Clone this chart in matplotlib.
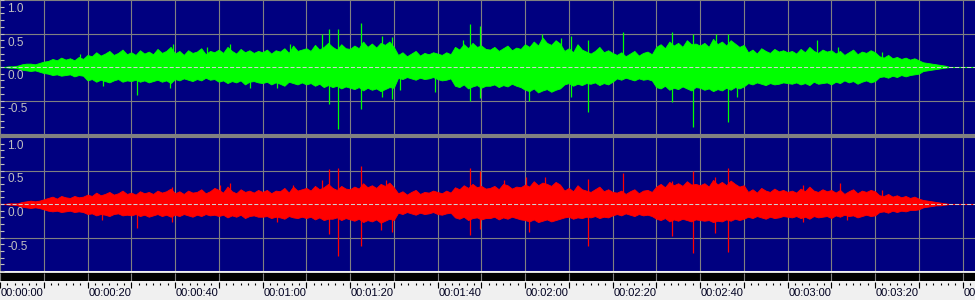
import numpy as np
import matplotlib
matplotlib.use("Agg")
import matplotlib.pyplot as plt
from matplotlib.patches import Rectangle
import matplotlib.transforms as mtransforms

plt.rcParams['font.family'] = ['Liberation Sans', 'DejaVu Sans']

# peak level per second of the track, in hundredths of full scale (t = 0 .. 222 s)
green_top = [
    0, 0, 1, 1, 2, 4, 5, 5, 4, 6,
    8, 9, 12, 10, 14, 11, 13, 10, 15, 12,
    18, 16, 22, 17, 20, 24, 18, 21, 26, 19,
    22, 18, 25, 20, 23, 19, 27, 21, 24, 30,
    20, 24, 18, 25, 21, 23, 28, 19, 24, 22,
    26, 21, 30, 24, 20, 27, 22, 25, 21, 24,
    22, 26, 20, 25, 23, 28, 21, 32, 24, 26,
    28, 24, 33, 26, 30, 36, 30, 26, 34, 28,
    27, 32, 28, 38, 30, 35, 29, 36, 33, 38,
    30, 18, 22, 16, 20, 24, 17, 21, 19, 22,
    20, 18, 22, 19, 30, 26, 34, 28, 36, 30,
    32, 27, 26, 30, 24, 28, 32, 25, 29, 27,
    34, 30, 38, 32, 44, 36, 33, 40, 35, 24,
    28, 22, 34, 26, 23, 20, 24, 30, 22, 25,
    21, 18, 22, 16, 20, 24, 17, 21, 23, 19,
    30, 34, 28, 38, 32, 36, 30, 40, 34, 35,
    32, 36, 30, 42, 34, 38, 32, 40, 35, 30,
    33, 22, 26, 20, 28, 24, 21, 27, 23, 25,
    22, 24, 20, 27, 22, 30, 24, 21, 26, 23,
    25, 20, 24, 18, 22, 26, 19, 23, 21, 25,
    22, 16, 14, 18, 13, 15, 12, 14, 11, 13,
    10, 7, 6, 5, 4, 3, 2, 0, 0, 0,
    0, 0, 0,
]
green_bottom = [
    0, 0, 1, 1, 2, 4, 5, 6, 5, 7,
    9, 10, 12, 11, 13, 12, 11, 14, 12, 13,
    20, 18, 22, 19, 21, 23, 20, 18, 22, 20,
    21, 19, 22, 20, 23, 21, 19, 22, 20, 24,
    18, 20, 17, 19, 21, 18, 20, 16, 19, 18,
    22, 20, 24, 21, 23, 20, 26, 22, 21, 23,
    24, 22, 26, 23, 25, 28, 22, 24, 26, 23,
    26, 24, 28, 25, 30, 27, 30, 28, 32, 29,
    31, 33, 30, 35, 31, 34, 32, 36, 33, 30,
    31, 16, 18, 15, 17, 19, 16, 18, 17, 15,
    18, 20, 19, 17, 28, 30, 26, 32, 29, 27,
    31, 28, 28, 26, 30, 27, 29, 25, 28, 30,
    34, 36, 32, 38, 35, 33, 37, 34, 32, 26,
    24, 28, 25, 27, 24, 25, 23, 27, 24, 26,
    22, 17, 19, 16, 18, 20, 17, 19, 18, 20,
    30, 32, 28, 34, 31, 33, 29, 32, 35, 30,
    31, 34, 32, 36, 33, 35, 31, 34, 30, 32,
    29, 24, 26, 23, 25, 27, 24, 26, 25, 23,
    24, 25, 23, 26, 24, 27, 22, 25, 24, 23,
    26, 22, 24, 20, 23, 21, 25, 22, 20, 23,
    21, 15, 14, 16, 13, 15, 12, 14, 12, 11,
    10, 6, 5, 4, 3, 2, 1, 0, 0, 0,
    0, 0, 0,
]
red_top = [
    0, 0, 1, 1, 1, 3, 4, 5, 4, 5,
    7, 9, 11, 8, 12, 10, 9, 12, 10, 11,
    14, 12, 17, 13, 15, 18, 14, 16, 20, 15,
    17, 14, 19, 16, 18, 15, 20, 17, 19, 23,
    16, 19, 15, 20, 17, 18, 22, 16, 19, 24,
    21, 17, 26, 19, 16, 22, 18, 20, 17, 21,
    18, 21, 16, 20, 19, 24, 17, 26, 20, 22,
    24, 20, 27, 22, 25, 30, 24, 21, 27, 23,
    22, 26, 23, 31, 25, 28, 24, 30, 27, 32,
    25, 16, 19, 14, 18, 21, 15, 18, 17, 20,
    18, 16, 20, 17, 25, 22, 28, 24, 30, 25,
    27, 23, 24, 27, 22, 30, 28, 23, 26, 25,
    29, 26, 34, 28, 32, 30, 27, 33, 29, 20,
    24, 19, 28, 22, 20, 18, 22, 26, 19, 22,
    18, 17, 20, 15, 19, 22, 16, 20, 21, 18,
    26, 30, 25, 33, 28, 31, 27, 34, 29, 30,
    28, 31, 26, 36, 29, 33, 28, 35, 30, 26,
    28, 18, 22, 17, 24, 20, 18, 23, 19, 21,
    18, 20, 17, 23, 19, 26, 20, 18, 22, 19,
    21, 17, 21, 15, 19, 22, 16, 20, 18, 21,
    19, 13, 12, 15, 11, 13, 10, 12, 9, 11,
    8, 6, 5, 4, 3, 2, 1, 0, 0, 0,
    0, 0, 0,
]
red_bottom = [
    0, 0, 1, 1, 2, 4, 5, 6, 5, 6,
    8, 10, 11, 10, 12, 11, 10, 12, 11, 12,
    15, 14, 17, 15, 16, 18, 15, 14, 17, 16,
    17, 15, 18, 16, 19, 17, 15, 18, 16, 19,
    16, 18, 15, 17, 19, 16, 18, 15, 17, 16,
    18, 16, 20, 17, 19, 16, 21, 18, 17, 19,
    19, 18, 21, 19, 20, 22, 18, 20, 21, 19,
    21, 19, 23, 20, 24, 22, 22, 20, 24, 21,
    23, 25, 22, 27, 24, 26, 23, 28, 25, 22,
    24, 13, 15, 12, 14, 16, 13, 15, 14, 12,
    15, 16, 14, 13, 20, 22, 19, 24, 21, 20,
    23, 21, 21, 19, 23, 20, 22, 19, 21, 23,
    24, 26, 23, 27, 25, 23, 26, 24, 22, 20,
    19, 22, 20, 21, 19, 20, 18, 21, 19, 20,
    17, 15, 17, 14, 16, 18, 15, 17, 16, 18,
    22, 24, 21, 26, 23, 25, 22, 24, 26, 23,
    24, 25, 24, 27, 25, 26, 23, 25, 22, 24,
    22, 19, 21, 18, 20, 22, 19, 21, 20, 18,
    19, 20, 18, 21, 19, 22, 18, 20, 19, 18,
    21, 17, 19, 16, 18, 17, 20, 18, 16, 18,
    17, 12, 11, 13, 10, 12, 10, 11, 9, 9,
    8, 5, 4, 3, 2, 2, 1, 0, 0, 0,
    0, 0, 0,
]

# isolated transients: time (s), positive peak, negative peak
green_spike_t = [18.3, 23.6, 31.4, 38.9, 39.5, 47.2, 52.6, 57.1, 63.2, 66.3, 73.5, 75.2,
                 77.3, 82.4, 87.2, 89.5, 91.4, 99.4, 105.9, 107.4, 109.7, 121.0, 123.8,
                 128.3, 130.6, 134.4, 142.4, 153.7, 158.5, 163.7, 166.5, 168.4, 186.7,
                 191.6, 201.5]
green_spike_hi = [0.20, 0, 0, 0, 0.34, 0.30, 0.35, 0, 0, 0.35, 0.50, 0.57,
                  0.57, 0.65, 0.47, 0.45, 0, 0, 0.40, 0.64, 0.61, 0, 0.50,
                  0.43, 0.47, 0.40, 0.52, 0.52, 0.50, 0.50, 0.50, 0, 0.40,
                  0.30, 0.22]
green_spike_lo = [0, -0.28, -0.42, -0.31, 0, 0, 0, -0.32, -0.32, 0, 0, -0.55,
                  -0.92, -0.62, -0.45, -0.48, -0.35, -0.37, 0, -0.50, -0.47, -0.50, 0,
                  0, -0.45, -0.67, 0, -0.52, -0.89, 0, -0.82, -0.45, 0,
                  0, 0]

red_spike_t = [23.2, 31.4, 39.2, 50.3, 52.6, 63.2, 67.0, 73.5, 75.2, 77.3, 82.4, 87.0,
               88.3, 89.5, 107.5, 109.8, 115.2, 120.3, 121.0, 124.5, 134.4, 142.4,
               153.5, 158.5, 163.4, 166.5, 183.6, 192.0, 193.5, 201.5]
red_spike_hi = [0, 0, 0.26, 0.28, 0.31, 0, 0.29, 0.36, 0.52, 0.53, 0.56, 0,
                0.36, 0, 0.53, 0.50, 0.36, 0.41, 0, 0.40, 0.38, 0.47,
                0.34, 0.50, 0.41, 0.53, 0.29, 0.31, 0, 0.21]
red_spike_lo = [-0.24, -0.36, -0.27, 0, 0, -0.27, 0, 0, -0.45, -0.78, -0.63, -0.39,
                0, -0.42, -0.47, -0.38, 0, 0, -0.42, 0, -0.63, 0,
                -0.48, -0.73, -0.44, -0.71, -0.27, 0, -0.24, 0]

level_labels = ["1.0", "0.5", "0.0", "-0.5"]
level_values = [1.0, 0.5, 0.0, -0.5]

W, H = 975, 300
PX_PER_S = 4.375
t_end = W / PX_PER_S

fig = plt.figure(figsize=(W / 100, H / 100), dpi=100)
fig.patch.set_facecolor('#f0f0f0')


def channel(ax, top, bottom, sp_t, sp_hi, sp_lo, color):
    ax.set_facecolor('#000080')
    ax.set_xlim(0, t_end)
    ax.set_ylim(-1, 1)
    for s in ax.spines.values():
        s.set_visible(False)
    ax.set_xticks(np.arange(0, 230, 10))
    ax.set_yticks([-1, -0.5, 0.5, 1])
    ax.set_yticks(np.arange(-1, 1.01, 0.1), minor=True)
    ax.grid(True, which='major', color='#808080', lw=0.8, zorder=1)
    ax.set_axisbelow(True)
    ax.tick_params(axis='x', length=0, labelbottom=False)
    ax.tick_params(axis='y', which='both', direction='in', length=3, width=0.8,
                   color='#c0c0c0', labelleft=False)

    secs = np.arange(len(top))
    hi = np.array(top) / 100
    lo = -np.array(bottom) / 100
    ax.axhline(0, color=color, lw=0.8, zorder=2)
    ax.fill_between(secs, lo, hi, color=color, lw=0.6, edgecolor=color, zorder=3)
    ax.vlines(sp_t, sp_lo, sp_hi, color=color, lw=0.9, zorder=3)
    ax.axhline(0, color='#d0d0d0', lw=0.75, ls=(0, (3.9, 1.9)), zorder=4)

    trans = mtransforms.blended_transform_factory(ax.transAxes, ax.transData)
    trans = mtransforms.offset_copy(trans, fig=fig, x=7, y=-3, units='dots')
    for lab, v in zip(level_labels, level_values):
        ax.text(0, v, lab, transform=trans, ha='left', va='top',
                fontsize=8.5, color='#c0c0c0', zorder=5)


ax1 = fig.add_axes([0, (H - 134) / H, 1, 134 / H])
channel(ax1, green_top, green_bottom, green_spike_t, green_spike_hi, green_spike_lo, '#00ff00')

ax2 = fig.add_axes([0, (H - 271) / H, 1, 134 / H])
channel(ax2, red_top, red_bottom, red_spike_t, red_spike_hi, red_spike_lo, '#ff0000')

# separator between channels
fig.add_artist(Rectangle((0, (H - 137.5) / H), 1, 3.5 / H, transform=fig.transFigure,
                         color='#808080', lw=0))
# thin light line and black strip below the channels
fig.add_artist(Rectangle((0, (H - 273) / H), 1, 1.2 / H, transform=fig.transFigure,
                         color='#d8d8d8', lw=0))
ax3 = fig.add_axes([0, (H - 281) / H, 1, 8 / H])
ax3.set_facecolor('#000000')
ax3.set_xlim(0, t_end)
ax3.set_ylim(0, 1)
ax3.vlines(np.arange(0, 230, 10), 0, 1, color='#808080', lw=0.8)
ax3.axis('off')
ax3.add_patch(Rectangle((0, 0), 1, 1, transform=ax3.transAxes, color='#000000', zorder=0))

# time ruler
ax4 = fig.add_axes([0, 0, 1, 19 / H])
ax4.set_facecolor('#f0f0f0')
ax4.set_xlim(0, t_end)
ax4.set_ylim(19, 0)
ax4.axis('off')
ax4.vlines(np.arange(0, 230, 10 / 6), 1.5, 3.5, color='#000000', lw=0.8)
ax4.vlines(np.arange(0, 230, 10), 1, 6.5, color='#000000', lw=0.8)
for sec in range(0, 230, 20):
    ax4.text(sec + 0.25, 7.5, f"00:{sec // 60:02d}:{sec % 60:02d}", ha='left', va='top',
             fontsize=8, color='#000020')

fig.savefig('out.png', dpi=100, facecolor=fig.get_facecolor())
